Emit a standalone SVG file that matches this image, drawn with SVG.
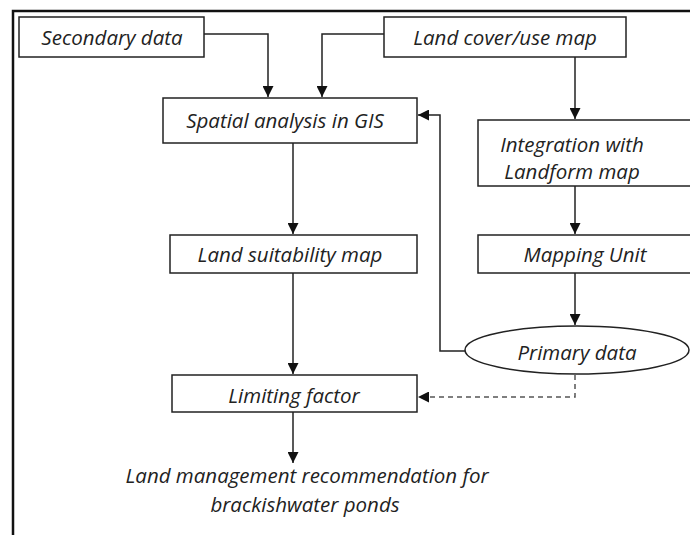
<svg xmlns="http://www.w3.org/2000/svg" width="690" height="535" viewBox="0 0 690 535">
<defs>
<marker id="ah" viewBox="0 0 10 10" refX="10" refY="5" markerWidth="11" markerHeight="11" markerUnits="userSpaceOnUse" orient="auto">
<path d="M0,0 L10,5 L0,10 Z" fill="#111"/>
</marker>
<style>
.box{fill:#fff;stroke:#222;stroke-width:1.5}
.t{font-family:"Open Sans","Noto Sans",sans-serif;font-style:italic;font-size:20.5px;fill:#222;text-anchor:middle}
.c{fill:none;stroke:#222;stroke-width:1.5}
.d{fill:none;stroke:#555;stroke-width:1.5;stroke-dasharray:5,4}
</style>
</defs>
<rect width="690" height="535" fill="#fff"/>
<path d="M13,535 V11 H690" fill="none" stroke="#111" stroke-width="2.5"/>
<g id="connectors">
<path class="c" d="M204,34 H268 V97" marker-end="url(#ah)"/>
<path class="c" d="M384,34 H322 V97" marker-end="url(#ah)"/>
<path class="c" d="M575,57 V119" marker-end="url(#ah)"/>
<path class="c" d="M575,186 V234" marker-end="url(#ah)"/>
<path class="c" d="M575,273 V325" marker-end="url(#ah)"/>
<path class="c" d="M466,351 H440 V115 H418" marker-end="url(#ah)"/>
<path class="c" d="M293,143 V234" marker-end="url(#ah)"/>
<path class="c" d="M293,273 V374" marker-end="url(#ah)"/>
<path class="c" d="M293,412 V463" marker-end="url(#ah)"/>
<path class="d" d="M575,375 V397 H418" marker-end="url(#ah)"/>
</g>
<g id="secondary"><rect class="box" x="19" y="17" width="185" height="40"/><text class="t" x="112" y="45">Secondary data</text></g>
<g id="landcover"><rect class="box" x="384" y="17" width="242" height="40"/><text class="t" x="505" y="45">Land cover/use map</text></g>
<g id="spatial"><rect class="box" x="163" y="98" width="254" height="45"/><text class="t" x="285" y="128">Spatial analysis in GIS</text></g>
<g id="integration"><rect class="box" x="478" y="120" width="220" height="66"/><text class="t" x="572" y="152">Integration with</text><text class="t" x="572" y="179">Landform map</text></g>
<g id="suitability"><rect class="box" x="170" y="235" width="247" height="38"/><text class="t" x="290" y="262">Land suitability map</text></g>
<g id="mapping"><rect class="box" x="478" y="235" width="220" height="38"/><text class="t" x="585" y="262">Mapping Unit</text></g>
<g id="primary"><ellipse class="box" cx="577" cy="350" rx="112" ry="24"/><text class="t" x="577" y="360">Primary data</text></g>
<g id="limiting"><rect class="box" x="172" y="375" width="245" height="37"/><text class="t" x="294" y="403">Limiting factor</text></g>
<g id="recommendation"><text class="t" x="307" y="483">Land management recommendation for</text><text class="t" x="305" y="512">brackishwater ponds</text></g>
</svg>
